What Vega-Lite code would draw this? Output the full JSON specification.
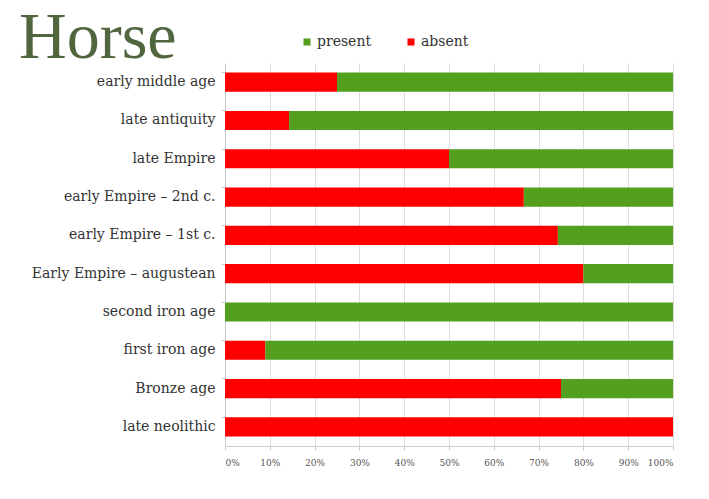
{
  "$schema": "https://vega.github.io/schema/vega-lite/v6.json",
  "width": 448,
  "height": 383,
  "autosize": {"type": "none"},
  "padding": {"left": 225, "top": 63, "right": 36, "bottom": 53},
  "background": "white",
  "title": {
    "text": "Horse",
    "orient": "top",
    "anchor": "start",
    "frame": "group",
    "font": "Liberation Serif",
    "fontSize": 66,
    "fontWeight": "normal",
    "color": "#50663f",
    "baseline": "alphabetic",
    "offset": 0,
    "dx": -206,
    "dy": 89
  },
  "data": {
    "values": [
      {"period": "early middle age", "status": "absent", "value": 25},
      {"period": "early middle age", "status": "present", "value": 75},
      {"period": "late antiquity", "status": "absent", "value": 14.3},
      {"period": "late antiquity", "status": "present", "value": 85.7},
      {"period": "late Empire", "status": "absent", "value": 50},
      {"period": "late Empire", "status": "present", "value": 50},
      {"period": "early Empire – 2nd c.", "status": "absent", "value": 66.7},
      {"period": "early Empire – 2nd c.", "status": "present", "value": 33.3},
      {"period": "early Empire – 1st c.", "status": "absent", "value": 74.3},
      {"period": "early Empire – 1st c.", "status": "present", "value": 25.7},
      {"period": "Early Empire – augustean", "status": "absent", "value": 80},
      {"period": "Early Empire – augustean", "status": "present", "value": 20},
      {"period": "second iron age", "status": "absent", "value": 0},
      {"period": "second iron age", "status": "present", "value": 100},
      {"period": "first iron age", "status": "absent", "value": 9},
      {"period": "first iron age", "status": "present", "value": 91},
      {"period": "Bronze age", "status": "absent", "value": 75},
      {"period": "Bronze age", "status": "present", "value": 25},
      {"period": "late neolithic", "status": "absent", "value": 100},
      {"period": "late neolithic", "status": "present", "value": 0}
    ]
  },
  "mark": {"type": "bar"},
  "encoding": {
    "y": {
      "field": "period",
      "type": "nominal",
      "sort": null,
      "scale": {"paddingInner": 0.5, "paddingOuter": 0.25},
      "axis": {
        "title": null,
        "labelFont": "DejaVu Serif",
        "labelFontSize": 14,
        "labelLimit": 300,
        "labelColor": "#333333",
        "labelPadding": 6,
        "domainColor": "#cccccc",
        "tickColor": "#cccccc",
        "tickSize": 4,
        "bandPosition": 0,
        "grid": false
      }
    },
    "x": {
      "field": "value",
      "type": "quantitative",
      "stack": "normalize",
      "scale": {"domain": [0, 1], "nice": false},
      "axis": {
        "title": null,
        "format": "%",
        "values": [0, 0.1, 0.2, 0.3, 0.4, 0.5, 0.6, 0.7, 0.8, 0.9, 1],
        "labelFont": "DejaVu Serif",
        "labelFontSize": 9,
        "labelColor": "#555555",
        "labelPadding": 8,
        "grid": true,
        "gridColor": "#dddddd",
        "domainColor": "#cccccc",
        "tickColor": "#cccccc",
        "tickSize": 4
      }
    },
    "color": {
      "field": "status",
      "type": "nominal",
      "scale": {"domain": ["present", "absent"], "range": ["#52a01d", "#ff0000"]},
      "legend": {
        "title": null,
        "orient": "none",
        "direction": "horizontal",
        "legendX": 75,
        "legendY": -28,
        "symbolType": "square",
        "symbolSize": 50,
        "symbolStrokeWidth": 0,
        "labelFont": "DejaVu Serif",
        "labelFontSize": 14,
        "labelColor": "#333333",
        "labelOffset": 3,
        "columnPadding": 32
      }
    },
    "order": {"field": "status", "sort": "ascending"}
  },
  "config": {"view": {"stroke": null}}
}
